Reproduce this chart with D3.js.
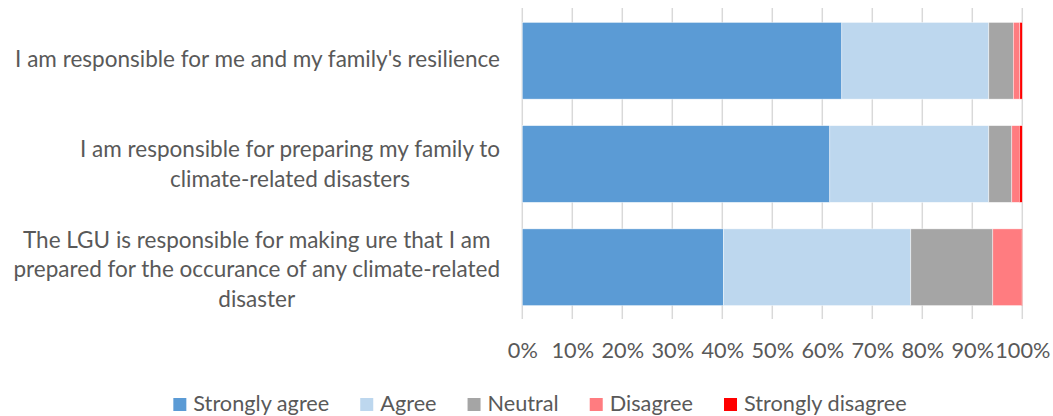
<!DOCTYPE html>
<html>
<head>
<meta charset="utf-8">
<script src="https://cdn.jsdelivr.net/npm/d3@7"></script>
<style>
  html, body { margin: 0; padding: 0; background: #fff; }
  svg { display: block; }
</style>
</head>
<body>
<svg id="chart" width="1053" height="416"></svg>
<script>
// ---- Data ----
const categories = [
  ["I am responsible for me and my family's resilience"],
  ["I am responsible for preparing my family to", "climate-related disasters"],
  ["The LGU is responsible for making ure that I am", "prepared for the occurance of any climate-related", "disaster"]
];
const seriesNames = ["Strongly agree", "Agree", "Neutral", "Disagree", "Strongly disagree"];
const stronglyAgree    = [63.9, 61.5, 40.2];
const agree            = [29.4, 31.8, 37.5];
const neutral          = [4.9, 4.6, 16.4];
const disagree         = [1.3, 1.5, 5.7];
const stronglyDisagree = [0.5, 0.6, 0.2];
const tickValues = [0, 10, 20, 30, 40, 50, 60, 70, 80, 90, 100];
const colors = ["#5b9bd5", "#bdd7ee", "#a5a5a5", "#ff7c80", "#ff0000"];

// ---- Setup ----
const svg = d3.select("#chart");
const FONT = "Lato, 'Open Sans', sans-serif";
const TEXT = "#595959";

function fitSize(str, target) {
  const probe = svg.append("text").attr("font-family", FONT).attr("font-size", 100).text(str);
  const w = probe.node().getComputedTextLength();
  probe.remove();
  return 100 * target / w;
}
const fs = fitSize("Strongly agree", 136);
const fsLabel = fitSize(categories[0][0], 485);

const keys = categories.map((c, i) => i);
const seriesArr = [stronglyAgree, agree, neutral, disagree, stronglyDisagree];
const table = keys.map(i => {
  const o = { idx: i };
  seriesNames.forEach((s, k) => o[s] = seriesArr[k][i]);
  return o;
});
const stacked = d3.stack().keys(seriesNames)(table);

const x = d3.scaleLinear().domain([0, 100]).range([522.3, 1022.3]);
const y = d3.scaleBand().domain(keys).range([9, 319]).paddingInner(0.257).paddingOuter(0.13);

// grid
svg.append("g").selectAll("line").data(tickValues).join("line")
  .attr("x1", d => x(d)).attr("x2", d => x(d))
  .attr("y1", 8).attr("y2", 319)
  .attr("stroke", "#d9d9d9").attr("stroke-width", 1.5);

// bars
svg.append("g").selectAll("g").data(stacked).join("g")
  .attr("fill", (d, i) => colors[i])
  .selectAll("rect").data(d => d).join("rect")
  .attr("x", d => x(d[0]))
  .attr("width", d => x(d[1]) - x(d[0]))
  .attr("y", d => y(d.data.idx))
  .attr("height", y.bandwidth())
  .attr("stroke", "#ffffff").attr("stroke-width", 0.6).attr("stroke-opacity", 0.7);

// x axis labels
const xAxis = d3.axisBottom(x).tickValues(tickValues).tickFormat(d => d + "%").tickSize(0);
const gx = svg.append("g").attr("transform", "translate(0,339)").call(xAxis);
gx.select(".domain").remove();
gx.selectAll("text").attr("font-family", FONT).attr("font-size", fs).attr("fill", TEXT).attr("dy", 0).attr("y", 0)
  .attr("transform", "translate(0,19)");

// category labels
const lh = 29.5;
categories.forEach((lines, i) => {
  const cy = y(i) + y.bandwidth() / 2;
  const n = lines.length;
  const t = svg.append("text").attr("font-family", FONT).attr("font-size", fsLabel).attr("fill", TEXT).attr("text-anchor", "middle");
  lines.forEach((ln, j) => {
    t.append("tspan").attr("y", cy + 4 + 2 * n + (j - (n - 1) / 2) * lh).text(ln);
  });
  let maxW = 0;
  t.selectAll("tspan").each(function () { maxW = Math.max(maxW, this.getComputedTextLength()); });
  t.selectAll("tspan").attr("x", 500 - maxW / 2);
});

// legend
const lg = svg.append("g");
let cx = 0;
seriesNames.forEach((s, i) => {
  const g = lg.append("g");
  g.append("rect").attr("x", cx).attr("y", -13).attr("width", 13).attr("height", 13).attr("fill", colors[i]);
  const tx = g.append("text").attr("x", cx + 20).attr("y", 0).attr("font-family", FONT).attr("font-size", fs).attr("fill", TEXT).text(s);
  cx += 20 + tx.node().getComputedTextLength() + 31;
});
const totalW = cx - 31;
lg.attr("transform", `translate(${540 - totalW / 2},411)`);
</script>
</body>
</html>
